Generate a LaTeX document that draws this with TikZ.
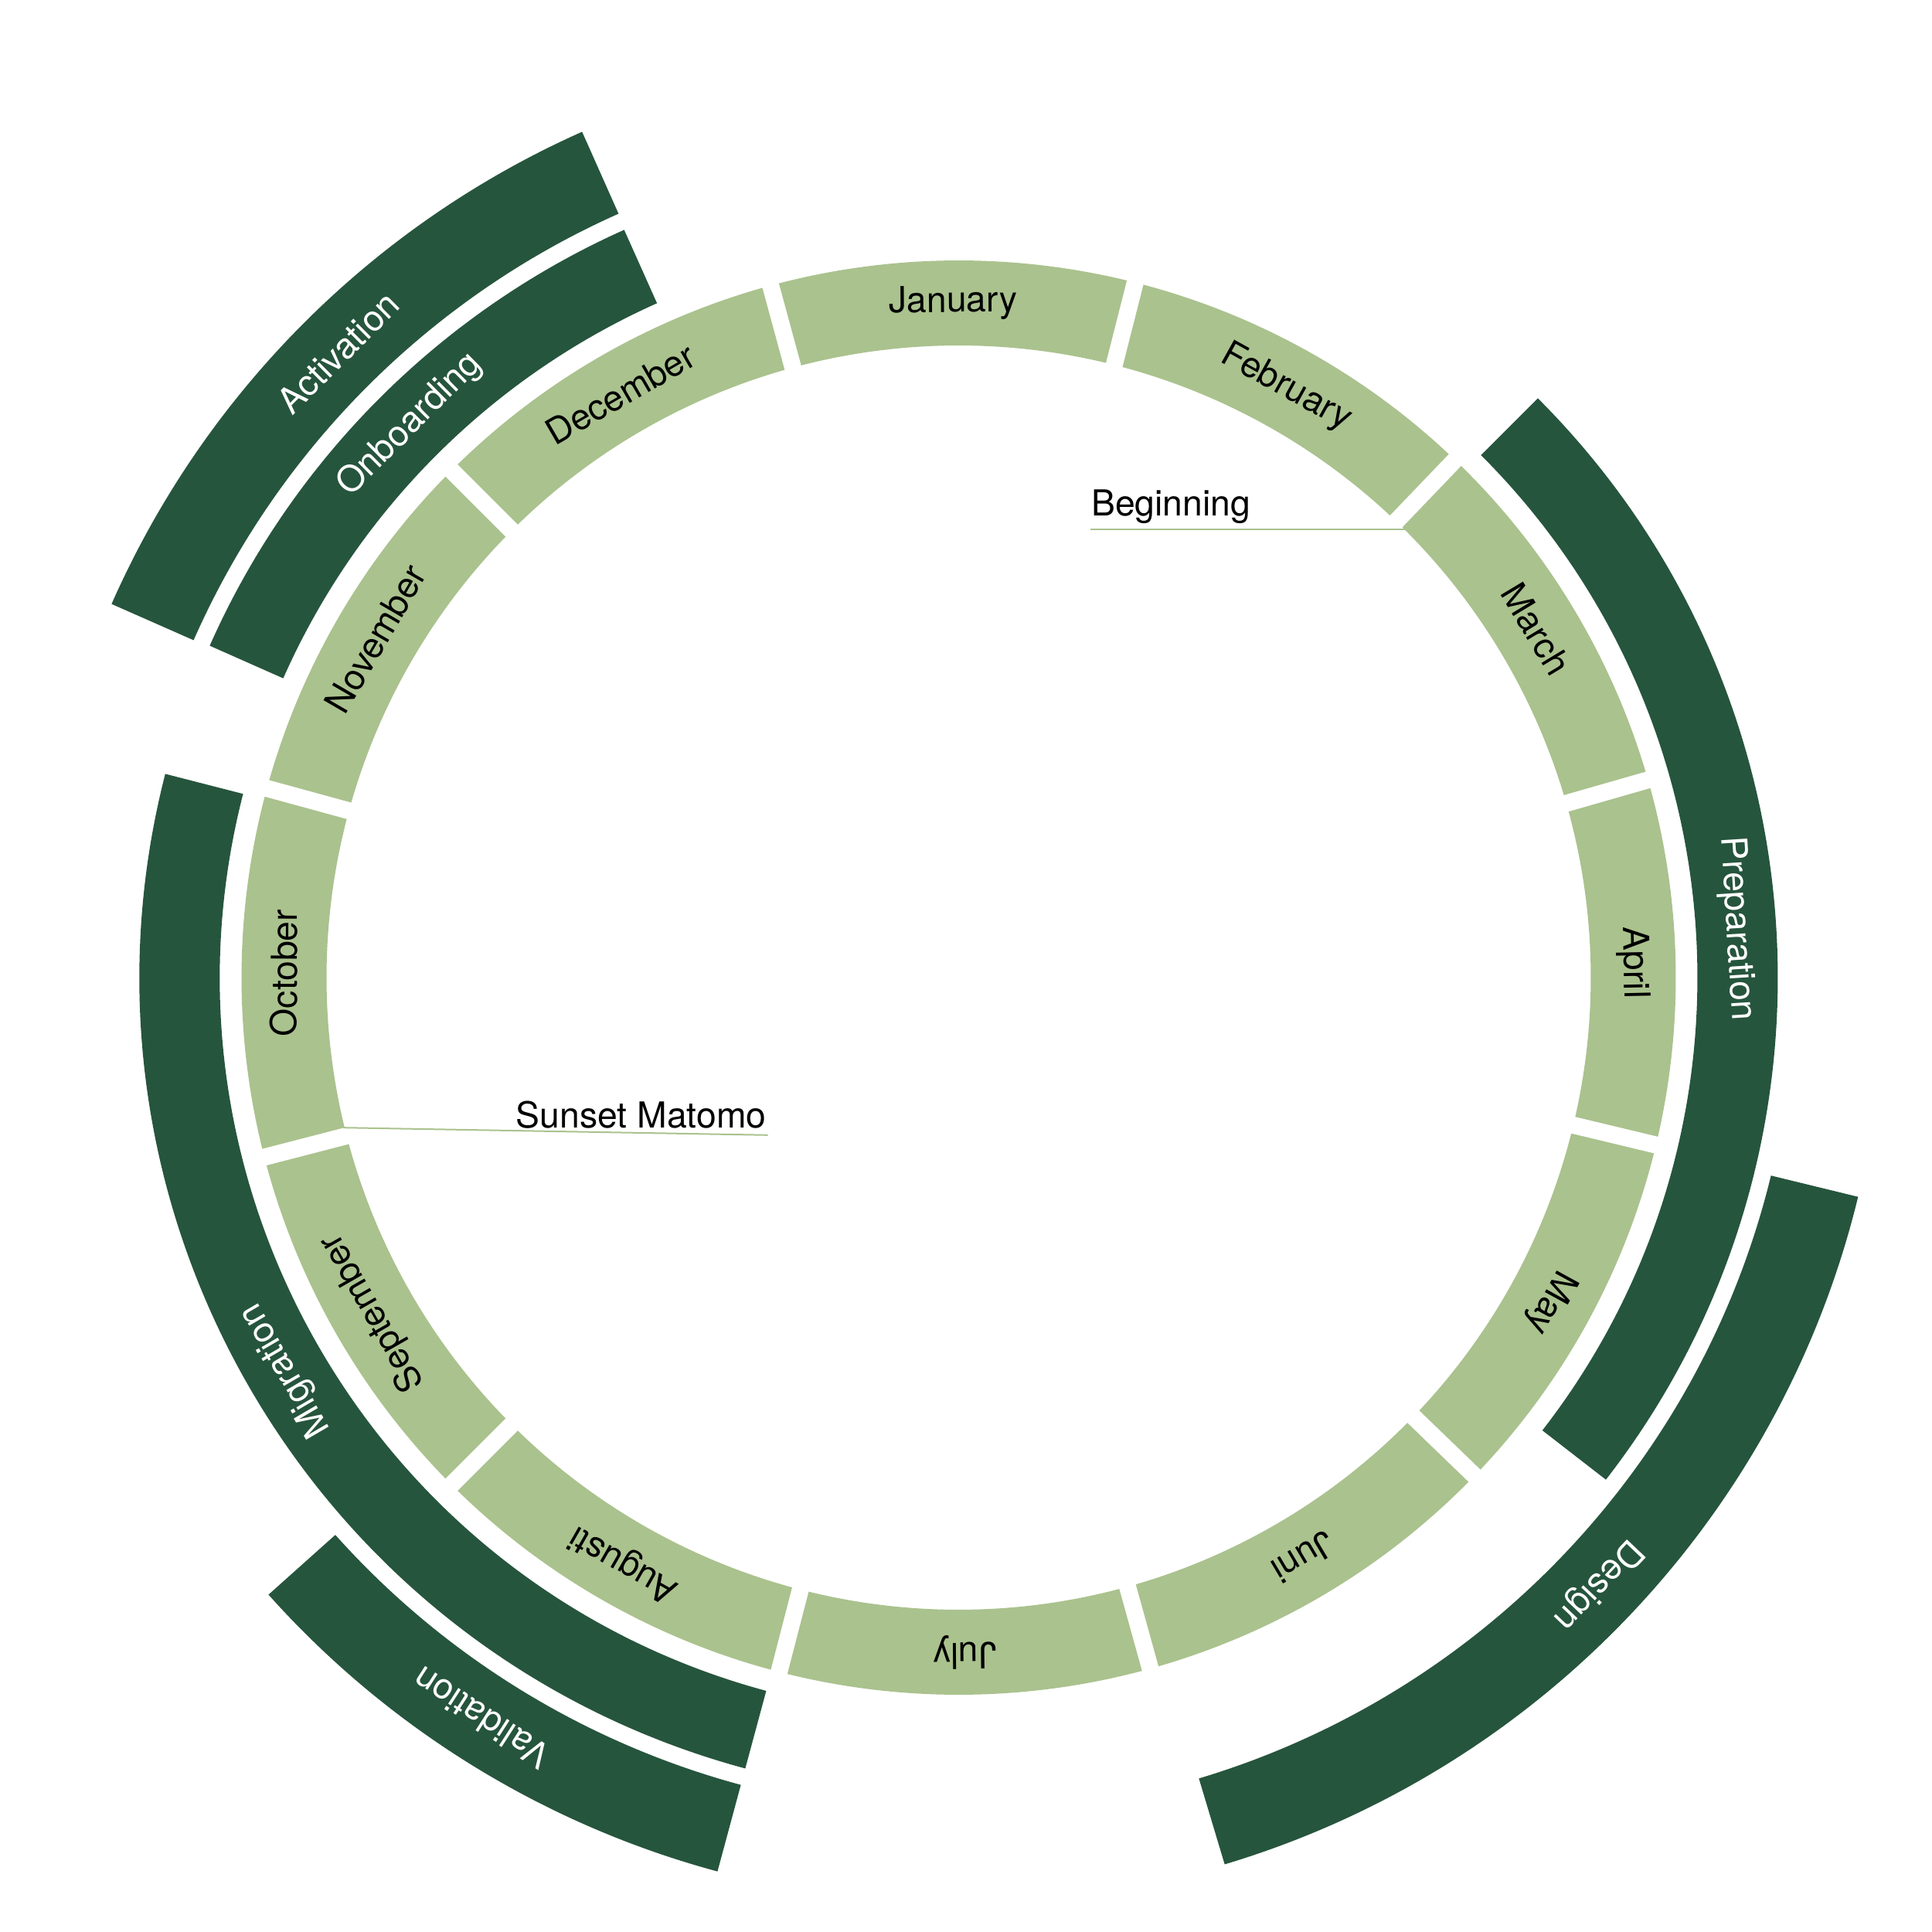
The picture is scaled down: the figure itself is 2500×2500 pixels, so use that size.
\documentclass[tikz,border=0pt]{standalone}
\usepackage{fontspec}
\setmainfont{TeX Gyre Heros}
\definecolor{lightgreen}{HTML}{AAC28E}
\definecolor{darkgreen}{HTML}{26553D}
% sector: colour, start (deg clockwise from top), end, inner radius, outer radius
\newcommand{\sect}[5]{\fill[#1] ({90-(#2)}:#4pt) arc[start angle={90-(#2)}, end angle={90-(#3)}, radius=#4pt] -- ({90-(#3)}:#5pt) arc[start angle={90-(#3)}, end angle={90-(#2)}, radius=#5pt] -- cycle;}
% label: style, name, angle (clockwise from top), radius, text
\newcommand{\lab}[5]{\node[#1, rotate={-(#3)}] (#2) at ({90-(#3)}:#4pt) {#5};}
\tikzset{
  lbl/.style={font=\fontsize{13.9}{16}\selectfont, inner sep=0pt},
  monthlbl/.style={lbl, text=black},
  phaselbl/.style={lbl, text=white},
  gapline/.style={white, line width=6.6pt},
  marker/.style={lightgreen, line width=0.6pt},
}
\begin{document}
\begin{tikzpicture}[scale=0.3]
\useasboundingbox (-1240.5pt,-1235pt) rectangle (1259.5pt,1265pt);
% month ring
\foreach \a/\b in {-15.2/14.25, 14.25/43.8, 43.8/74, 74/103.5, 103.5/134, 134/164.5, 164.5/194.5, 194.5/225, 225/255.5, 255.5/285.3, 285.3/315, 315/344.8}{
  \sect{lightgreen}{\a}{\b}{818}{928}
}
\foreach \a in {-15.2, 14.25, 43.8, 74, 103.5, 134, 164.5, 194.5, 225, 255.5, 285.3, 315}{
  \draw[gapline] ({90-(\a)}:800pt) -- ({90-(\a)}:945pt);
}
% phases
\sect{darkgreen}{45}{127.8}{956}{1060}
\sect{darkgreen}{103.7}{163.3}{1082}{1198}
\sect{darkgreen}{195.1}{284.4}{956}{1060}
\sect{darkgreen}{195.1}{228.2}{1082}{1198}
\sect{darkgreen}{293.9}{335.9}{956}{1060}
\sect{darkgreen}{293.8}{336}{1082}{1198}
% month labels
\lab{monthlbl}{jan}{-0.47}{873}{January}
\lab{monthlbl}{feb}{29.03}{873}{February}
\lab{monthlbl}{mar}{58.9}{873}{March}
\lab{monthlbl}{apr}{88.75}{873}{April}
\lab{monthlbl}{may}{118.75}{873}{May}
\lab{monthlbl}{jun}{149.25}{873}{Juni}
\lab{monthlbl}{jul}{179.5}{873}{July}
\lab{monthlbl}{aug}{209.75}{873}{Augusti}
\lab{monthlbl}{sep}{240.25}{873}{September}
\lab{monthlbl}{oct}{270.4}{873}{October}
\lab{monthlbl}{nov}{300.15}{873}{November}
\lab{monthlbl}{dec}{329.9}{873}{December}
% phase labels
\lab{phaselbl}{prep}{86.4}{1008}{Preparation}
\lab{phaselbl}{design}{133.5}{1140}{Design}
\lab{phaselbl}{migr}{239.75}{1008}{Migration}
\lab{phaselbl}{valid}{212.8}{1140}{Validation}
\lab{phaselbl}{onb}{315.2}{1008}{Onboarding}
\lab{phaselbl}{act}{315.2}{1140}{Activation}
% markers
\coordinate (begA) at (45:820pt);
\coordinate (begX) at (171pt,0pt);
\draw[marker] (begA) -- (begA -| begX);
\node[monthlbl, anchor=base west] (beg) at (171pt,598pt) {Beginning};
\coordinate (sunA) at (-166.3:820pt);
\coordinate (sunB) at (-246.9pt,-203.8pt);
\draw[marker] (sunA) -- (sunB);
\node[monthlbl, anchor=base east] (sun) at (-248.5pt,-194.2pt) {Sunset Matomo};
\end{tikzpicture}
\end{document}
